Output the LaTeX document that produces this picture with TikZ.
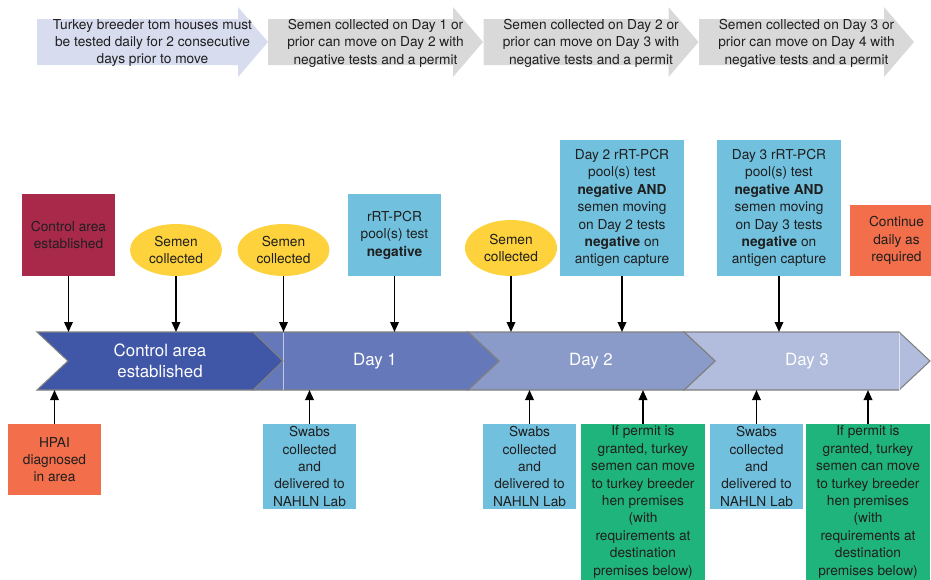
\documentclass[tikz,border=0pt]{standalone}
\usepackage{fontspec}
\setmainfont{TeX Gyre Heros}
\usepackage{tikz}
\usetikzlibrary{shapes.geometric}
\usetikzlibrary{arrows.meta}

\definecolor{crimson}{HTML}{A8294A}
\definecolor{sun}{HTML}{FED23C}
\definecolor{sky}{HTML}{70C0DE}
\definecolor{coral}{HTML}{F36E4B}
\definecolor{jade}{HTML}{1FB47C}
\definecolor{lav}{HTML}{D8DCEF}
\definecolor{pale}{HTML}{D9D9D9}
\definecolor{band0}{HTML}{4056A6}
\definecolor{band1}{HTML}{6578B9}
\definecolor{band2}{HTML}{8A9BC9}
\definecolor{band3}{HTML}{B2BCDC}

\tikzset{
	txt/.style={inner sep=0pt,align=center,text=black!88,font=\fontsize{7.8}{9.9}\selectfont},
	tbox/.style={txt,rectangle,minimum width=1.86cm,minimum height=1.64cm},
	semen/.style={txt,ellipse,fill=sun,minimum width=1.84cm,minimum height=1.04cm},
	wbox/.style={txt,rectangle,minimum width=2.48cm},
	daylbl/.style={inner sep=0pt,align=center,text=white,font=\fontsize{9.6}{12}\selectfont},
	seg/.style={draw=black!50,line width=0.6pt},
	link/.style={->,line width=1pt}
}

\begin{document}
\begin{tikzpicture}[x=0.02cm,y=-0.02cm,>={Triangle[length=2mm,width=1.7mm]}]
	\useasboundingbox (0,0) rectangle (931,579);

	% top row of arrows
	\fill[lav] (37,19) -- (238,19) -- (238,7) -- (268,42) -- (238,77) -- (238,65) -- (37,65) -- cycle;
	\node[txt] (m0) at (152.5,43) {Turkey breeder tom houses must\\be tested daily for 2 consecutive\\days prior to move};
	\foreach \i/\x in {1/268,2/483.5,3/699}{
		\pgfmathtruncatemacro{\j}{\i+1}
		\fill[pale] (\x,19) -- (\x+185,19) -- (\x+185,7) -- (\x+215,42) -- (\x+185,77) -- (\x+185,65) -- (\x,65) -- cycle;
		\node[txt] (m\i) at (\x+107.5,43) {Semen collected on Day \i{} or\\prior can move on Day \j{} with\\negative tests and a permit};
	}

	% timeline band
	\path[seg,fill=band3] (684,332) -- (899,332) -- (930,361) -- (899,390) -- (684,390) -- (715,361) -- cycle;
	\draw[white!60!band3,line width=0.4pt] (899,332.5) -- (899,389.5);
	\path[seg,fill=band2] (468,332) -- (684,332) -- (715,361) -- (684,390) -- (468,390) -- (499,361) -- cycle;
	\path[seg,fill=band1] (253,332) -- (468,332) -- (499,361) -- (468,390) -- (253,390) -- cycle;
	\draw[white!60!band1,line width=0.4pt] (283,332.5) -- (283,389.5);
	\path[seg,fill=band0] (37,332) -- (253,332) -- (283,361) -- (253,390) -- (37,390) -- (68,361) -- cycle;
	\node[daylbl] (d0) at (160,361) {Control area\\established};
	\node[daylbl] (d1) at (375,361) {Day 1};
	\node[daylbl] (d2) at (591,361) {Day 2};
	\node[daylbl] (d3) at (807,361) {Day 3};
	\coordinate (top) at (0,332);
	\coordinate (bot) at (0,390);

	% above the band
	\node[tbox,fill=crimson] (ctrl) at (68.5,235) {Control area\\established};
	\node[semen] (s1) at (176,250) {Semen\\collected};
	\node[semen] (s2) at (283.5,250) {Semen\\collected};
	\node[tbox,fill=sky] (pcr) at (394.5,235) {rRT-PCR\\pool(s) test\\\textbf{negative}};
	\node[semen,minimum height=1.12cm] (s3) at (511,248) {Semen\\collected};
	\node[wbox,fill=sky,minimum height=2.72cm] (pcr2) at (622,208) {Day 2 rRT-PCR\\pool(s) test\\\textbf{negative AND}\\semen moving\\on Day 2 tests\\\textbf{negative} on\\antigen capture};
	\node[wbox,fill=sky,minimum height=2.72cm] (pcr3) at (779,208) {Day 3 rRT-PCR\\pool(s) test\\\textbf{negative AND}\\semen moving\\on Day 3 tests\\\textbf{negative} on\\antigen capture};
	\node[tbox,fill=coral,minimum height=1.42cm] (cont) at (896.5,240.5) {Continue\\daily as\\required};

	% below the band
	\node[tbox,fill=coral,minimum height=1.42cm] (hpai) at (54.5,459.5) {HPAI\\diagnosed\\in area};
	\node[tbox,fill=sky,minimum height=1.7cm] (sw1) at (309.5,466.5) {Swabs\\collected\\and\\delivered to\\NAHLN Lab};
	\node[tbox,fill=sky,minimum height=1.7cm] (sw2) at (529.5,466.5) {Swabs\\collected\\and\\delivered to\\NAHLN Lab};
	\node[wbox,fill=jade,minimum height=3.12cm] (ok2) at (643,502) {If permit is\\granted, turkey\\semen can move\\to turkey breeder\\hen premises\\(with\\requirements at\\destination\\premises below)};
	\node[tbox,fill=sky,minimum height=1.7cm] (sw3) at (756.5,466.5) {Swabs\\collected\\and\\delivered to\\NAHLN Lab};
	\node[wbox,fill=jade,minimum height=3.12cm] (ok3) at (868,502) {If permit is\\granted, turkey\\semen can move\\to turkey breeder\\hen premises\\(with\\requirements at\\destination\\premises below)};

	\foreach \n in {ctrl,s1,s2,pcr,s3,pcr2,pcr3}
		\draw[link] (\n.south) -- (\n.south |- top);
	\foreach \n in {hpai,sw1,sw2,ok2,sw3,ok3}
		\draw[link] (\n.north) -- (\n.north |- bot);
\end{tikzpicture}
\end{document}
